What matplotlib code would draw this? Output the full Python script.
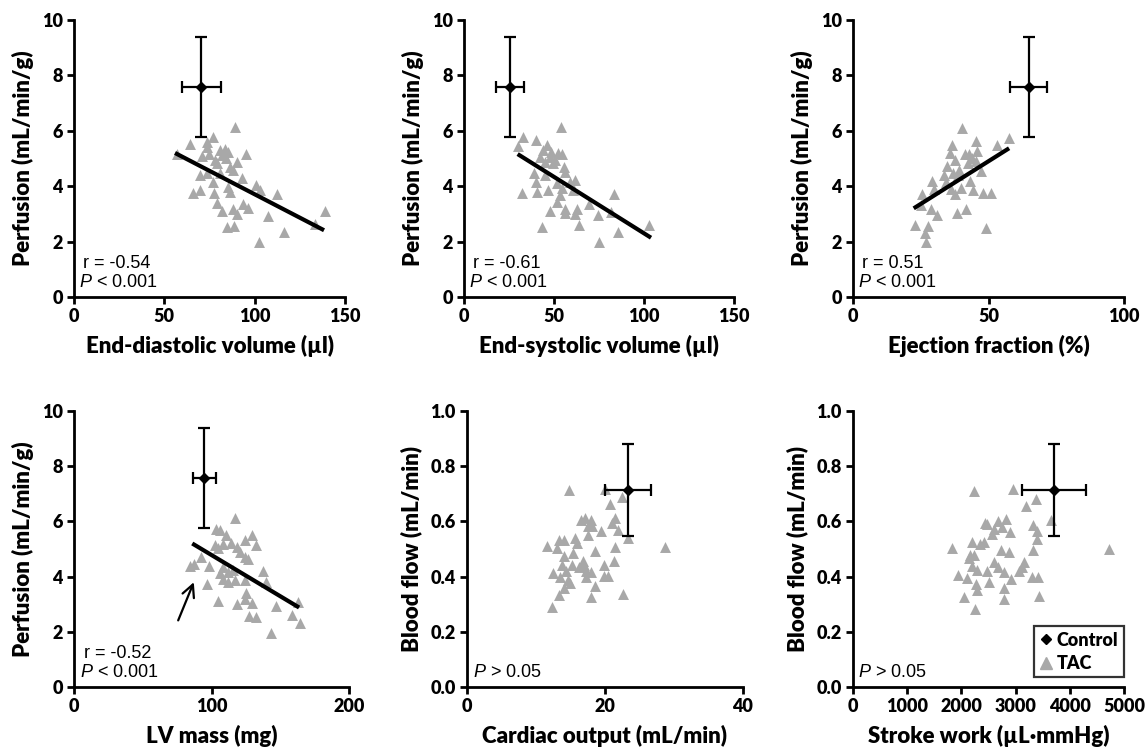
import matplotlib
matplotlib.use('Agg')
import matplotlib.pyplot as plt
from matplotlib.lines import Line2D

plt.rcParams['font.family'] = ['Lato', 'DejaVu Sans']
plt.rcParams['mathtext.fontset'] = 'custom'
plt.rcParams['mathtext.it'] = 'Liberation Sans:italic'
plt.rcParams['mathtext.rm'] = 'Liberation Sans'

GRAY = '#a8a8a8'

# ---- panel data (TAC points, control mean +/- SD, fit line ends) ----
edv_x = [89.1, 64.2, 73.4, 77.1, 73.4, 56.8, 83.6, 85.4, 70.7, 74.7, 79.0, 81.7,
         86.4, 90.0, 95.2, 88.2, 69.7, 73.4, 76.8, 80.8, 92.8, 85.4, 86.4, 101.0,
         102.9, 65.7, 69.7, 77.5, 112.2, 79.3, 82.1, 88.2, 90.0, 93.4, 96.1, 107.2,
         84.5, 88.7, 102.6, 116.2, 133.4, 138.9, 81.0, 84.0, 78.0]
edv_y = [6.14, 5.52, 5.60, 5.78, 5.42, 5.16, 5.33, 5.24, 5.08, 5.18, 4.82, 5.12,
         4.70, 4.88, 5.16, 4.58, 4.40, 4.46, 4.16, 4.46, 4.28, 3.98, 3.80, 4.04,
         3.88, 3.76, 3.86, 3.76, 3.73, 3.41, 3.11, 3.19, 3.01, 3.35, 3.23, 2.92,
         2.53, 2.55, 1.99, 2.33, 2.63, 3.11, 5.30, 5.00, 4.95]

esv_x = [53.7, 32.6, 40.0, 30.2, 45.9, 52.4, 54.3, 42.2, 47.8, 45.0, 49.6, 55.6,
         38.9, 45.0, 56.1, 61.7, 40.0, 51.5, 58.9, 32.0, 40.7, 46.9, 54.3, 60.7,
         53.3, 83.3, 51.5, 69.6, 47.8, 56.1, 62.9, 56.1, 61.7, 74.6, 81.5, 43.1,
         64.0, 85.7, 103.0, 75.2, 44.0, 48.5, 50.5]
esv_y = [6.14, 5.76, 5.66, 5.46, 5.48, 5.20, 5.16, 5.06, 5.06, 4.88, 4.84, 4.70,
         4.46, 4.40, 4.52, 4.22, 4.16, 4.12, 4.16, 3.76, 3.80, 3.88, 3.92, 3.86,
         3.67, 3.73, 3.43, 3.35, 3.11, 3.19, 3.19, 3.05, 3.01, 2.95, 3.07, 2.53,
         2.59, 2.33, 2.59, 1.99, 5.30, 5.25, 4.95]

ef_x = [40.2, 57.6, 53.1, 45.5, 36.7, 35.9, 41.2, 42.8, 45.9, 37.5, 45.5, 42.4,
        34.7, 47.4, 36.9, 38.7, 29.3, 34.2, 43.1, 29.8, 36.3, 40.0, 44.3, 37.5,
        25.5, 48.0, 51.0, 25.2, 28.9, 31.0, 38.4, 41.6, 22.8, 27.7, 26.4, 49.0,
        26.8, 44.0, 39.0, 33.5]
ef_y = [6.11, 5.75, 5.48, 5.63, 5.49, 5.19, 5.15, 5.15, 5.27, 4.95, 4.91, 4.85,
        4.73, 4.55, 4.49, 4.42, 4.19, 4.15, 4.19, 3.91, 3.91, 3.95, 3.86, 3.71,
        3.71, 3.77, 3.74, 3.31, 3.19, 2.95, 3.04, 3.19, 2.59, 2.56, 2.32, 2.50,
        1.99, 5.00, 4.60, 4.40]

lvm_x = [117.0, 103.6, 106.0, 110.9, 129.8, 124.2, 132.7, 102.4, 108.5, 114.5,
         118.2, 104.8, 120.6, 124.2, 126.6, 92.7, 87.2, 84.3, 98.1, 108.5, 106.0,
         112.1, 115.7, 137.5, 108.5, 112.1, 116.9, 124.2, 139.9, 96.4, 125.4,
         124.2, 104.8, 118.9, 129.8, 147.2, 162.9, 127.4, 132.2, 158.6, 164.2,
         143.6]
lvm_y = [6.14, 5.74, 5.68, 5.50, 5.50, 5.32, 5.14, 5.14, 5.18, 5.22, 5.08, 5.04,
         4.90, 4.72, 4.62, 4.72, 4.45, 4.38, 4.38, 4.35, 4.14, 4.17, 4.23, 4.21,
         3.93, 3.81, 3.87, 3.87, 3.81, 3.75, 3.39, 3.20, 3.11, 3.00, 3.05, 2.94,
         3.08, 2.56, 2.52, 2.60, 2.32, 1.97]

co_x = [14.8, 20.0, 22.4, 20.7, 16.5, 17.1, 17.9, 21.5, 21.0, 17.5, 18.1, 19.4,
        17.6, 21.9, 23.3, 13.3, 14.1, 15.7, 15.9, 11.6, 13.1, 28.7, 21.4, 18.5,
        15.4, 14.0, 21.3, 13.8, 15.2, 16.8, 16.9, 16.2, 19.9, 12.4, 14.3, 17.3,
        17.9, 13.5, 14.7, 14.9, 17.3, 19.9, 20.4, 14.0, 18.5, 13.3, 17.9, 22.6,
        12.3]
co_y = [0.714, 0.718, 0.687, 0.663, 0.606, 0.612, 0.606, 0.612, 0.595, 0.582,
        0.582, 0.566, 0.552, 0.570, 0.540, 0.534, 0.534, 0.540, 0.522, 0.510,
        0.504, 0.506, 0.506, 0.494, 0.486, 0.473, 0.458, 0.443, 0.443, 0.458,
        0.441, 0.434, 0.441, 0.413, 0.419, 0.419, 0.417, 0.398, 0.389, 0.377,
        0.398, 0.401, 0.401, 0.359, 0.365, 0.333, 0.325, 0.337, 0.289]

sw_x = [2224, 2948, 3378, 3194, 3655, 2439, 2469, 2684, 2826, 2746, 2605, 2899,
        3329, 3391, 2562, 3391, 2193, 2346, 2420, 1824, 2728, 2887, 3317, 4730,
        2150, 2236, 2131, 2193, 2285, 2469, 2605, 2684, 2788, 3157, 3065, 3127,
        1946, 2100, 2500, 2911, 3299, 3421, 2268, 2297, 2777, 2052, 2795, 3440,
        2254]
sw_y = [0.711, 0.717, 0.681, 0.657, 0.606, 0.596, 0.590, 0.602, 0.608, 0.578,
        0.572, 0.560, 0.588, 0.566, 0.554, 0.536, 0.524, 0.518, 0.524, 0.504,
        0.496, 0.488, 0.498, 0.500, 0.480, 0.480, 0.467, 0.440, 0.424, 0.422,
        0.452, 0.434, 0.416, 0.452, 0.422, 0.434, 0.407, 0.395, 0.380, 0.392,
        0.400, 0.398, 0.373, 0.352, 0.359, 0.325, 0.319, 0.328, 0.283]

# control: x mean, x SD, y mean, y SD
ctrl_edv = [70.5, 10.8, 7.58, 1.82]
ctrl_esv = [25.6, 7.6, 7.58, 1.82]
ctrl_ef = [64.8, 6.7, 7.58, 1.80]
ctrl_lvm = [94.7, 8.5, 7.58, 1.82]
ctrl_co = [23.3, 3.3, 0.714, 0.166]
ctrl_sw = [3717, 590, 0.714, 0.166]

fit_edv = ([55.9, 138.4], [5.20, 2.41])
fit_esv = ([29.8, 103.9], [5.16, 2.14])
fit_ef = ([22.4, 57.6], [3.20, 5.37])
fit_lvm = ([86.0, 163.7], [5.20, 2.88])

stats = ['r = -0.54', 'r = -0.61', 'r = 0.51', 'r = -0.52', None, None]
pvals = ['< 0.001', '< 0.001', '< 0.001', '< 0.001', '> 0.05', '> 0.05']

xlabels = ['End-diastolic volume (\u00b5l)', 'End-systolic volume (\u00b5l)',
           'Ejection fraction (%)', 'LV mass (mg)', 'Cardiac output (mL/min)',
           'Stroke work (\u00b5L\u00b7mmHg)']
ylabels = ['Perfusion (mL/min/g)'] * 4 + ['Blood flow (mL/min)'] * 2
xticks = [[0, 50, 100, 150], [0, 50, 100, 150], [0, 50, 100], [0, 100, 200],
          [0, 20, 40], [0, 1000, 2000, 3000, 4000, 5000]]

# ---- layout (pixel boxes of each axes: left, right, top, bottom) ----
W, H = 1148, 748
boxes = [(74, 345, 20, 297), (464, 734, 20, 297), (853, 1124, 20, 297),
         (74, 349, 411, 687), (467, 743, 411, 687), (853, 1124, 411, 687)]

fig = plt.figure(figsize=(W / 100, H / 100), dpi=100)

panels = [
    (edv_x, edv_y, ctrl_edv, fit_edv),
    (esv_x, esv_y, ctrl_esv, fit_esv),
    (ef_x, ef_y, ctrl_ef, fit_ef),
    (lvm_x, lvm_y, ctrl_lvm, fit_lvm),
    (co_x, co_y, ctrl_co, None),
    (sw_x, sw_y, ctrl_sw, None),
]

axes = []
for i, (px, py, ctrl, fit) in enumerate(panels):
    l, r, t, b = boxes[i]
    ax = fig.add_axes([l / W, 1 - b / H, (r - l) / W, (b - t) / H])
    axes.append(ax)

    ax.scatter(px, py, marker='^', s=62, color=GRAY, linewidths=0, zorder=2)
    if fit is not None:
        ax.plot(fit[0], fit[1], color='black', lw=3, solid_capstyle='butt', zorder=3)
    ax.errorbar(ctrl[0], ctrl[2], xerr=ctrl[1], yerr=ctrl[3], fmt='D',
                color='black', ms=5, elinewidth=1.6, capsize=4, capthick=1.6,
                zorder=4)

    ax.set_xlim(0, xticks[i][-1])
    ax.set_xticks(xticks[i])
    if i < 4:
        ax.set_ylim(0, 10)
        ax.set_yticks([0, 2, 4, 6, 8, 10])
    else:
        ax.set_ylim(0, 1.0)
        ax.set_yticks([0, 0.2, 0.4, 0.6, 0.8, 1.0])
        ax.set_yticklabels(['0.0', '0.2', '0.4', '0.6', '0.8', '1.0'])

    for side in ['top', 'right']:
        ax.spines[side].set_visible(False)
    for side in ['left', 'bottom']:
        ax.spines[side].set_linewidth(2)
    ax.tick_params(direction='out', length=5, width=2, labelsize=13, pad=3)
    for lab in ax.get_xticklabels() + ax.get_yticklabels():
        lab.set_fontweight('heavy')

    ax.set_xlabel(xlabels[i], fontsize=16, fontweight='heavy', labelpad=7)
    ax.set_ylabel(ylabels[i], fontsize=16, fontweight='heavy', labelpad=6)

    if stats[i]:
        ax.text(0.035, 0.105, stats[i], transform=ax.transAxes, fontsize=13,
                family='Liberation Sans')
    ax.text(0.02, 0.035, '$\\mathit{P}$ ' + pvals[i], transform=ax.transAxes,
            fontsize=13, family='Liberation Sans')

# arrow pointing at the outlier group in LV mass panel
axes[3].annotate('', xy=(87.9, 3.89), xytext=(75, 2.32),
                 arrowprops=dict(arrowstyle='->', lw=1.6, color='black',
                                 mutation_scale=22))

handles = [Line2D([], [], marker='D', color='black', ls='none', ms=5),
           Line2D([], [], marker='^', color=GRAY, ls='none', ms=9)]
leg = axes[5].legend(handles, ['Control', 'TAC'], loc='lower right',
                     bbox_to_anchor=(1.0, 0.035), frameon=True, fancybox=False,
                     handlelength=0.7, handletextpad=0.25, borderpad=0.3,
                     borderaxespad=0.0, labelspacing=0.35,
                     prop={'weight': 'heavy', 'size': 13})
leg.get_frame().set_edgecolor('black')
leg.get_frame().set_linewidth(1.6)

fig.savefig('out.png', dpi=100)
